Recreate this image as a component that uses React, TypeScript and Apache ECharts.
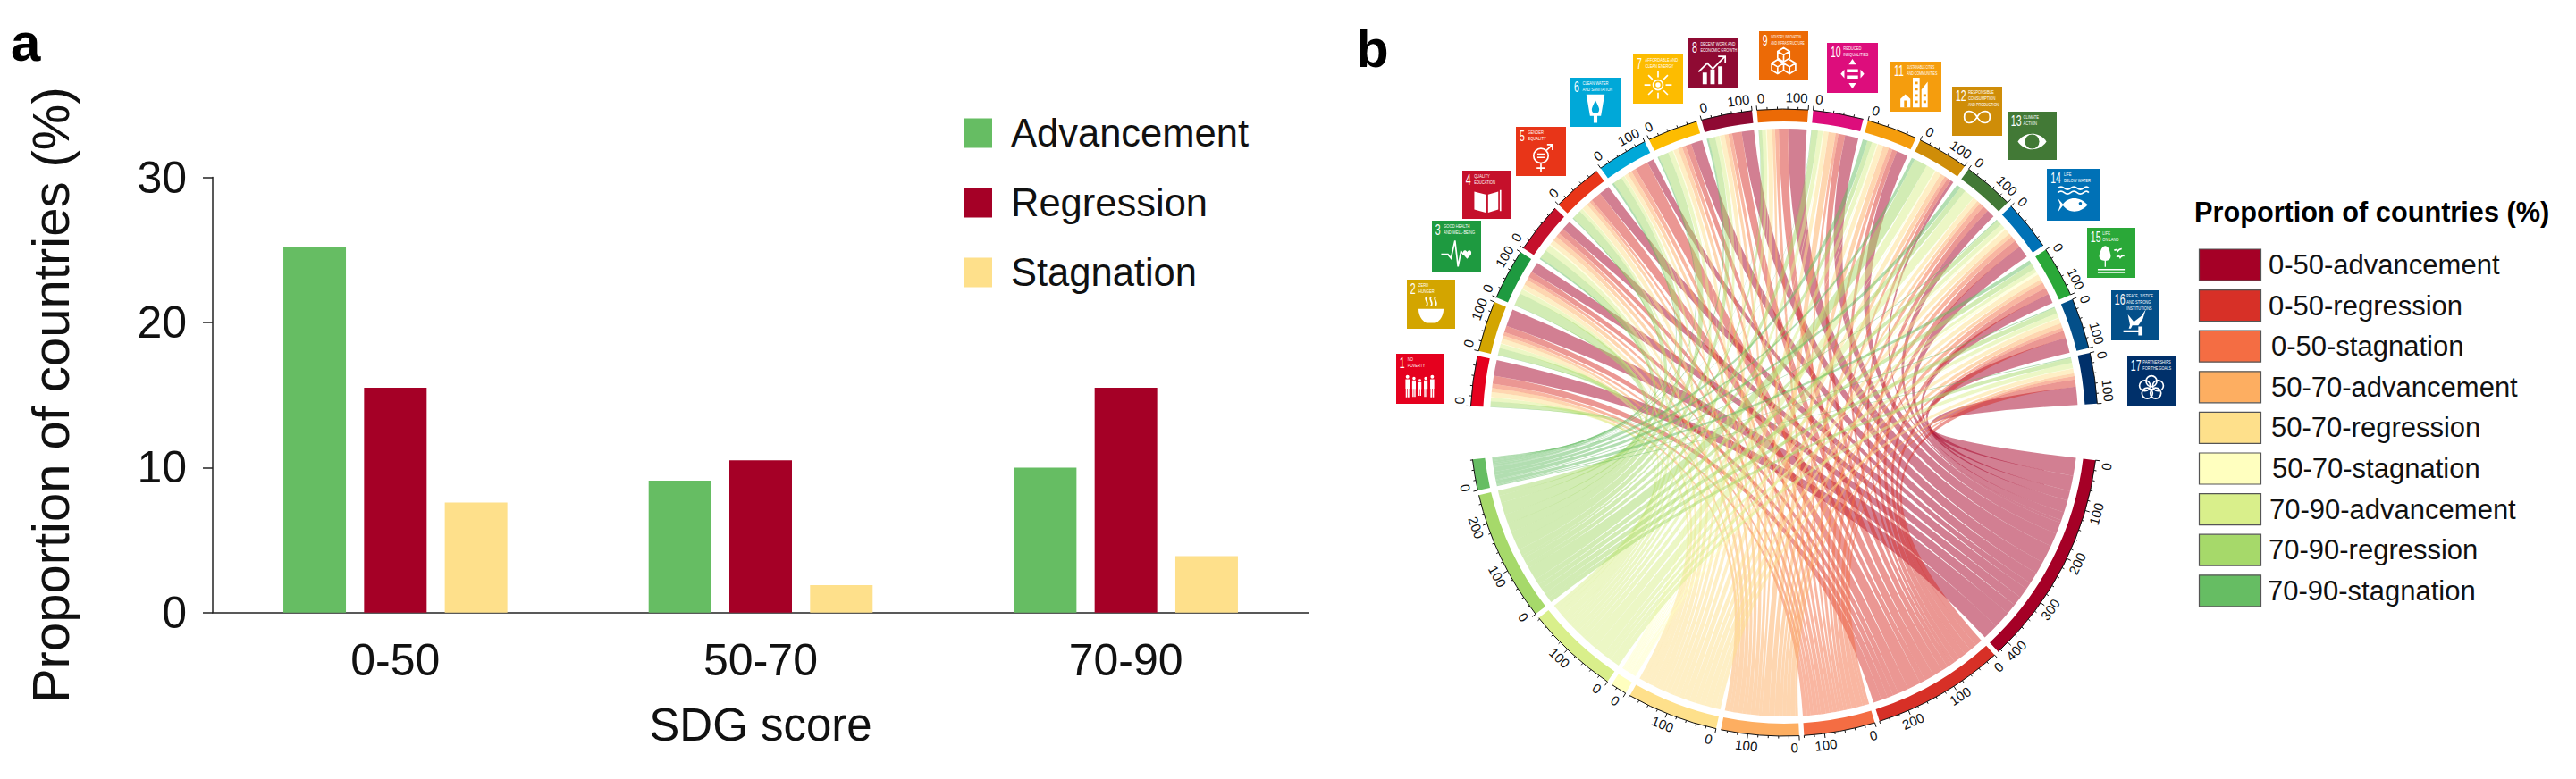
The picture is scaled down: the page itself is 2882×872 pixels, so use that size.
import React, { useEffect, useRef } from "react";
import * as echarts from "echarts";

// ---------- panel a data ----------
const scoreBands = ["0-50", "50-70", "70-90"];
const advancement = [25.2, 9.1, 10.0];
const regression = [15.5, 10.5, 15.5];
const stagnation = [7.6, 1.9, 3.9];

// ---------- panel b data ----------
const groupNames = [
  "0-50-advancement", "0-50-regression", "0-50-stagnation",
  "50-70-advancement", "50-70-regression", "50-70-stagnation",
  "70-90-advancement", "70-90-regression", "70-90-stagnation",
];
const groupColors = ["#A50026", "#D73027", "#F46D43", "#FDAE61", "#FEE08B", "#FFFFBF", "#D9EF8B", "#A6D96A", "#66BD63"];
const sdgColors = ["#E5001E", "#D3A500", "#1E9A40", "#C5102B", "#E83518", "#00A8D8", "#FDBC00", "#8F0A33", "#EC6A06",
  "#DD0D7C", "#F59D0D", "#CF8D08", "#427936", "#0071B6", "#2AA838", "#034F89", "#00306A"];
const sdgTitles = [
  ["NO", "POVERTY"], ["ZERO", "HUNGER"], ["GOOD HEALTH", "AND WELL-BEING"], ["QUALITY", "EDUCATION"],
  ["GENDER", "EQUALITY"], ["CLEAN WATER", "AND SANITATION"], ["AFFORDABLE AND", "CLEAN ENERGY"],
  ["DECENT WORK AND", "ECONOMIC GROWTH"], ["INDUSTRY, INNOVATION", "AND INFRASTRUCTURE"], ["REDUCED", "INEQUALITIES"],
  ["SUSTAINABLE CITIES", "AND COMMUNITIES"], ["RESPONSIBLE", "CONSUMPTION", "AND PRODUCTION"], ["CLIMATE", "ACTION"],
  ["LIFE", "BELOW WATER"], ["LIFE", "ON LAND"], ["PEACE, JUSTICE", "AND STRONG", "INSTITUTIONS"], ["PARTNERSHIPS", "FOR THE GOALS"],
];
// share of countries: one row per SDG, one column per group
const sdg1 = [33, 17, 9, 9, 10, 1, 8, 11, 1];
const sdg2 = [36, 14, 7, 7, 10, 1, 9, 15, 1];
const sdg3 = [22, 12, 7, 11, 10, 1, 10, 26, 1];
const sdg4 = [20, 12, 9, 10, 10, 3, 13, 19, 3];
const sdg5 = [22, 22, 6, 8, 12, 1, 7, 19, 2];
const sdg6 = [14, 28, 10, 9, 8, 1, 7, 19, 4];
const sdg7 = [24, 12, 8, 9, 10, 2, 10, 21, 3];
const sdg8 = [26, 20, 8, 8, 10, 1, 9, 14, 4];
const sdg9 = [38, 20, 8, 6, 11, 2, 8, 6, 1];
const sdg10 = [28, 14, 6, 15, 10, 2, 10, 13, 1];
const sdg11 = [24, 10, 8, 12, 12, 2, 11, 10, 10];
const sdg12 = [6, 8, 7, 10, 12, 2, 20, 28, 7];
const sdg13 = [17, 12, 10, 7, 10, 1, 22, 12, 9];
const sdg14 = [26, 15, 11, 8, 12, 4, 10, 11, 2];
const sdg15 = [20, 14, 12, 8, 12, 6, 8, 12, 8];
const sdg16 = [32, 15, 7, 10, 11, 1, 10, 12, 2];
const sdg17 = [38, 15, 7, 6, 10, 1, 11, 10, 2];
const flows = [sdg1, sdg2, sdg3, sdg4, sdg5, sdg6, sdg7, sdg8, sdg9, sdg10, sdg11, sdg12, sdg13, sdg14, sdg15, sdg16, sdg17];

// ---------- chord layout ----------
const CX = 1996, CY = 473, R_RIB = 329, R_IN = 337, R_OUT = 351, R_LABEL = 364;
const DEG_PER_UNIT = 0.094, GAP = 0.9, TOP_START = 273, LOW_START = 96.9;
const FONT = '"Liberation Sans", Arial, sans-serif';

const rowTotals = flows.map((r) => r.reduce((a, b) => a + b, 0));
const colTotals = groupNames.map((_, j) => flows.reduce((a, r) => a + r[j], 0));
function layout(totals: number[], start: number) {
  let a = start;
  return totals.map((t) => {
    const s = a;
    a += t * DEG_PER_UNIT;
    const e = a;
    a += GAP;
    return [s, e];
  });
}
const topSectors = layout(rowTotals, TOP_START);
const lowSectors = layout(colTotals, LOW_START);

const pt = (deg: number, r: number) => {
  const t = (deg * Math.PI) / 180;
  return [CX + r * Math.sin(t), CY - r * Math.cos(t)];
};
const fx = (p: number[]) => `${p[0].toFixed(2)} ${p[1].toFixed(2)}`;
const arcTo = (deg: number, r: number) => `A${r} ${r} 0 0 1 ${fx(pt(deg, r))}`;

function ribbonPath(i: number, j: number) {
  // top sector: clockwise runs from the last group to the first
  let a0 = topSectors[i][0];
  for (let k = groupNames.length - 1; k > j; k--) a0 += flows[i][k] * DEG_PER_UNIT;
  const a1 = a0 + flows[i][j] * DEG_PER_UNIT;
  // lower sector: clockwise runs from the last SDG to the first
  let b0 = lowSectors[j][0];
  for (let k = flows.length - 1; k > i; k--) b0 += flows[k][j] * DEG_PER_UNIT;
  const b1 = b0 + flows[i][j] * DEG_PER_UNIT;
  return (
    `M${fx(pt(a0, R_RIB))}${arcTo(a1, R_RIB)}Q${CX} ${CY} ${fx(pt(b0, R_RIB))}` +
    `${arcTo(b1, R_RIB)}Q${CX} ${CY} ${fx(pt(a0, R_RIB))}Z`
  );
}

function trackElements(s: number, e: number, total: number, color: string) {
  const band = `M${fx(pt(s, R_OUT))}${arcTo(e, R_OUT)}L${fx(pt(e, R_IN))}A${R_IN} ${R_IN} 0 0 0 ${fx(pt(s, R_IN))}Z`;
  let axis = `M${fx(pt(s, R_OUT))}${arcTo(e, R_OUT)}`;
  const kids: any[] = [{ type: "path", shape: { pathData: band }, style: { fill: color } }];
  for (let v = 0; v <= total + 0.01; v += 20) {
    const d = s + v * DEG_PER_UNIT;
    const major = v % 100 === 0;
    axis += `M${fx(pt(d, R_OUT))}L${fx(pt(d, R_OUT + (major ? 5 : 2.6)))}`;
    if (major) {
      const text = String(v);
      const halfDeg = (((text.length * 8.3) / 2 + 1.5) / R_LABEL) * (180 / Math.PI);
      const at = Math.min(Math.max(d, s + halfDeg), e - halfDeg);
      const p = pt(at, R_LABEL);
      const norm = ((at % 360) + 360) % 360;
      const rot = norm > 90 && norm < 270 ? norm - 180 : norm;
      kids.push({
        type: "text", x: p[0], y: p[1], rotation: (-rot * Math.PI) / 180,
        style: { text, fontSize: 15, fontFamily: FONT, fill: "#111", align: "center", verticalAlign: "middle" },
      });
    }
  }
  kids.push({ type: "path", shape: { pathData: axis }, style: { fill: "none", stroke: "#111", lineWidth: 1 } });
  return kids;
}

// ---------- SDG tiles ----------
const tileBoxes = [
  [1562, 396, 53, 56], [1574, 313, 54, 55], [1602, 247, 55, 57], [1636, 191, 55, 54], [1696, 142, 56, 55], [1757, 87, 56, 55],
  [1827, 61, 56, 55], [1889, 43, 56, 56], [1968, 35, 55, 54], [2044, 48, 57, 56], [2115, 69, 57, 56], [2184, 97, 56, 55],
  [2246, 125, 55, 54], [2290, 189, 59, 58], [2335, 255, 54, 56], [2362, 325, 54, 56], [2380, 399, 54, 55],
];
const ci = (x: number, y: number, r: number) => `M${x - r} ${y}A${r} ${r} 0 1 1 ${x + r} ${y}A${r} ${r} 0 1 1 ${x - r} ${y}Z`;
const bx = (x: number, y: number, w: number, h: number) => `M${x} ${y}H${x + w}V${y + h}H${x}Z`;
const person = (x: number, y: number, k: number) =>
  ci(x, y, 6 * k) + bx(x - 7 * k, y + 8 * k, 14 * k, 32 * k) + bx(x - 6 * k, y + 40 * k, 5 * k, 30 * k) + bx(x + 1 * k, y + 40 * k, 5 * k, 30 * k);
// f = white fill, s = white stroke, t = tile-coloured fill
const icons: { f?: string; s?: string; t?: string }[] = [
  { f: person(8, 20, 1) + person(30, 25, 0.9) + person(50, 32, 0.75) + person(70, 25, 0.9) + person(92, 20, 1) },
  { s: "M35 5C25 15 45 20 35 35M50 5C40 15 60 20 50 35M65 5C55 15 75 20 65 35", f: "M8 45H92C92 75 72 90 65 92H35C28 90 8 75 8 45Z" },
  { s: "M0 55H22L32 68L45 10L55 95L65 45L72 55H78", f: "M85 48C80 38 68 42 72 55L85 70L98 55C102 42 90 38 85 48Z" },
  { f: "M8 20L46 30V90L8 80ZM54 30L88 20V80L54 90Z" + bx(93, 15, 5, 70) },
  { s: ci(50, 45, 24) + "M67 28L88 8M70 8H88V26M50 69V98M36 85H64", f: bx(38, 37, 24, 5) + bx(38, 48, 24, 5) },
  { f: "M20 5H80L68 75H32Z" + bx(44, 75, 12, 23), t: "M50 25C40 45 38 50 38 55A12 12 0 0 0 62 55C62 50 60 45 50 25Z" },
  { s: ci(50, 50, 16) + "M50 5V25M50 75V95M5 50H25M75 50H95M18 18L32 32M68 68L82 82M82 18L68 32M32 68L18 82", f: ci(50, 50, 8) },
  { f: bx(15, 60, 14, 38) + bx(40, 50, 14, 48) + bx(65, 40, 14, 58), s: "M2 58L30 30L48 48L85 10M65 8H88V30" },
  { s: "M50 5L70 17V40L50 52L30 40V17ZM30 17L50 29L70 17M50 29V52M30 45L50 57V80L30 92L10 80V57ZM10 57L30 69L50 57M30 69V92M70 45L90 57V80L70 92L50 80V57M50 57L70 69L90 57M70 69V92" },
  { f: "M50 2L62 20H38ZM50 98L38 80H62ZM12 50L24 36V64ZM88 50L76 36V64Z" + bx(32, 35, 36, 10) + bx(32, 55, 36, 10) },
  { f: bx(40, 2, 22, 96) + "M0 98V70L16 55L32 70V98Z" + "M68 98V40L88 15V98Z", t: bx(46, 15, 10, 8) + bx(46, 35, 10, 8) + bx(46, 55, 10, 8) + bx(46, 75, 10, 8) + bx(12, 75, 8, 23) + bx(74, 55, 9, 8) + bx(74, 75, 9, 8) },
  { s: "M50 50C35 25 8 25 8 50C8 75 35 75 50 50C65 25 92 25 92 50C92 75 65 75 50 50Z" },
  { f: "M2 50C25 15 75 15 98 50C75 85 25 85 2 50Z", t: ci(50, 50, 24) },
  { s: "M2 10Q12 2 22 10T42 10T62 10T82 10T98 10M2 24Q12 16 22 24T42 24T62 24T82 24T98 24", f: "M2 42L18 60C35 35 70 35 95 62C70 90 35 88 18 64L2 85L10 62Z", t: ci(72, 58, 5) },
  { f: "M30 5C15 8 15 25 10 35C8 50 20 55 30 55C42 55 50 48 48 35C45 25 45 8 30 5Z" + bx(28, 55, 4, 20) + bx(5, 82, 90, 4) + bx(5, 92, 90, 4), s: "M60 20Q68 15 72 22Q78 14 85 15M68 42Q76 36 80 44Q86 36 94 38" },
  { f: "M25 25L45 50L70 30L85 8L75 40L60 62H40L35 72H28L32 60Z" + bx(10, 78, 50, 7) + bx(60, 65, 14, 30) },
  { s: ci(50, 30, 18) + ci(72, 45, 18) + ci(64, 70, 18) + ci(36, 70, 18) + ci(28, 45, 18) },
];

function tileElements(i: number) {
  const [x, y, w, h] = tileBoxes[i];
  const color = sdgColors[i];
  const num = String(i + 1);
  const kids: any[] = [{ type: "rect", shape: { x, y, width: w, height: h }, style: { fill: color } }];
  const numX = x + w * 0.07;
  kids.push({
    type: "text", x: numX, y: y + 10, scaleX: 0.62,
    style: { text: num, fontSize: 17, fontFamily: FONT, fill: "#fff", align: "left", verticalAlign: "middle" },
  });
  const titleX = x + w * (num.length > 1 ? 0.32 : 0.24);
  const avail = x + w - 2 - titleX;
  sdgTitles[i].forEach((line, k) => {
    const natural = line.length * 0.68 * 6;
    kids.push({
      type: "text", x: titleX, y: y + 6 + k * 6.8, scaleX: Math.min(0.68, avail / natural),
      style: { text: line, fontSize: 6, fontFamily: FONT, fill: "#fff", align: "left", verticalAlign: "middle" },
    });
  });
  const size = Math.min(w, h) * 0.62;
  const k = size / 100;
  const icon = icons[i];
  const parts: any[] = [];
  if (icon.f) parts.push({ type: "path", shape: { pathData: icon.f }, style: { fill: "#fff" } });
  if (icon.t) parts.push({ type: "path", shape: { pathData: icon.t }, style: { fill: color } });
  if (icon.s) parts.push({ type: "path", shape: { pathData: icon.s }, style: { fill: "none", stroke: "#fff", lineWidth: 5 } });
  kids.push({ type: "group", x: x + (w - size) / 2, y: y + h - size - h * 0.07, scaleX: k, scaleY: k, children: parts });
  return kids;
}

// ---------- flat tables for the custom series ----------
const ribbonRows: number[][] = [];
flows.forEach((row, i) => row.forEach((v, j) => ribbonRows.push([i, j, v])));
const trackRows = [
  ...rowTotals.map((t, i) => [topSectors[i][0], topSectors[i][1], t, 0, i]),
  ...colTotals.map((t, j) => [lowSectors[j][0], lowSectors[j][1], t, 1, j]),
];
const legendOffsets = [0, 0, 3, 3, 3, 4, 1, 0, -1];

export default function App() {
  const ref = useRef<HTMLDivElement>(null);
  useEffect(() => {
    document.body.style.margin = "0";
    const chart = echarts.init(ref.current!, null, { renderer: "svg", width: 2882, height: 872 });
    const axisStroke = { color: "#222", width: 1.5 };
    chart.setOption({
      animation: false,
      backgroundColor: "#fff",
      textStyle: { fontFamily: FONT },
      grid: { left: 238, top: 198.6, width: 1226, height: 487.2 },
      legend: {
        left: 1073, top: 122, orient: "vertical", itemWidth: 32, itemHeight: 33, itemGap: 34,
        icon: "rect", selectedMode: false,
        textStyle: { fontSize: 43.5, fontFamily: FONT, color: "#111", lineHeight: 33, padding: [0, 0, 0, 16] },
      },
      xAxis: {
        type: "category", data: scoreBands, name: "SDG score", nameLocation: "middle", nameGap: 100,
        nameTextStyle: { fontSize: 51, fontFamily: FONT, color: "#111" },
        axisLine: { lineStyle: axisStroke }, axisTick: { length: 10.5, lineStyle: axisStroke },
        axisLabel: { fontSize: 50, fontFamily: FONT, color: "#111", margin: 28 },
      },
      yAxis: {
        type: "value", min: 0, max: 30, interval: 10, name: "Proportion of countries (%)", nameLocation: "middle", nameGap: 153,
        nameTextStyle: { fontSize: 58, fontFamily: FONT, color: "#111" },
        splitLine: { show: false },
        axisLine: { show: true, lineStyle: axisStroke }, axisTick: { show: true, length: 11, lineStyle: axisStroke },
        axisLabel: { fontSize: 50, fontFamily: FONT, color: "#111", margin: 29 },
      },
      graphic: [
        { type: "text", left: 12, top: 17, style: { text: "a", fontSize: 60, fontWeight: "bold", fontFamily: FONT, fill: "#000" } },
        { type: "text", left: 1517, top: 24, style: { text: "b", fontSize: 60, fontWeight: "bold", fontFamily: FONT, fill: "#000" } },
      ],
      series: [
        { name: "Advancement", type: "bar", data: advancement, barWidth: 70, barGap: "29%", itemStyle: { color: "#66BD63" } },
        { name: "Regression", type: "bar", data: regression, barWidth: 70, itemStyle: { color: "#A50026" } },
        { name: "Stagnation", type: "bar", data: stagnation, barWidth: 70, itemStyle: { color: "#FEE08B" } },
        {
          type: "custom", coordinateSystem: "none", silent: true, data: ribbonRows, z: 3,
          renderItem: (_p: any, api: any) => {
            const i = api.value(0), j = api.value(1);
            return { type: "path", shape: { pathData: ribbonPath(i, j) }, style: { fill: groupColors[j], opacity: 0.5 } };
          },
        },
        {
          type: "custom", coordinateSystem: "none", silent: true, data: trackRows, z: 4,
          renderItem: (_p: any, api: any) => {
            const low = api.value(3) === 1;
            const idx = api.value(4);
            return { type: "group", children: trackElements(api.value(0), api.value(1), api.value(2), low ? groupColors[idx] : sdgColors[idx]) };
          },
        },
        {
          type: "custom", coordinateSystem: "none", silent: true, data: sdgColors.map((_, i) => [i]), z: 5,
          renderItem: (_p: any, api: any) => ({ type: "group", children: tileElements(api.value(0)) }),
        },
        {
          type: "custom", coordinateSystem: "none", silent: true, data: groupNames.map((_, i) => [i]), z: 5,
          renderItem: (_p: any, api: any) => {
            const i = api.value(0);
            const y = 279 + i * 45.6;
            return {
              type: "group",
              children: [
                { type: "rect", shape: { x: 2460.5, y, width: 69, height: 35 }, style: { fill: groupColors[i], stroke: "#555", lineWidth: 1.2 } },
                {
                  type: "text", x: 2538 + legendOffsets[i], y: y + 17.5,
                  style: { text: groupNames[i], fontSize: 31, fontFamily: FONT, fill: "#111", align: "left", verticalAlign: "middle" },
                },
              ],
            };
          },
        },
      ],
    });
    chart.setOption({
      graphic: [
        { type: "text", left: 12, top: 17, style: { text: "a", fontSize: 60, fontWeight: "bold", fontFamily: FONT, fill: "#000" } },
        { type: "text", left: 1517, top: 24, style: { text: "b", fontSize: 60, fontWeight: "bold", fontFamily: FONT, fill: "#000" } },
        { type: "text", left: 2455, top: 222, style: { text: "Proportion of countries (%)", fontSize: 30.7, fontWeight: "bold", fontFamily: FONT, fill: "#000" } },
      ],
    });
    return () => chart.dispose();
  }, []);
  return <div ref={ref} style={{ position: "absolute", left: 0, top: 0, width: 2882, height: 872 }} />;
}
